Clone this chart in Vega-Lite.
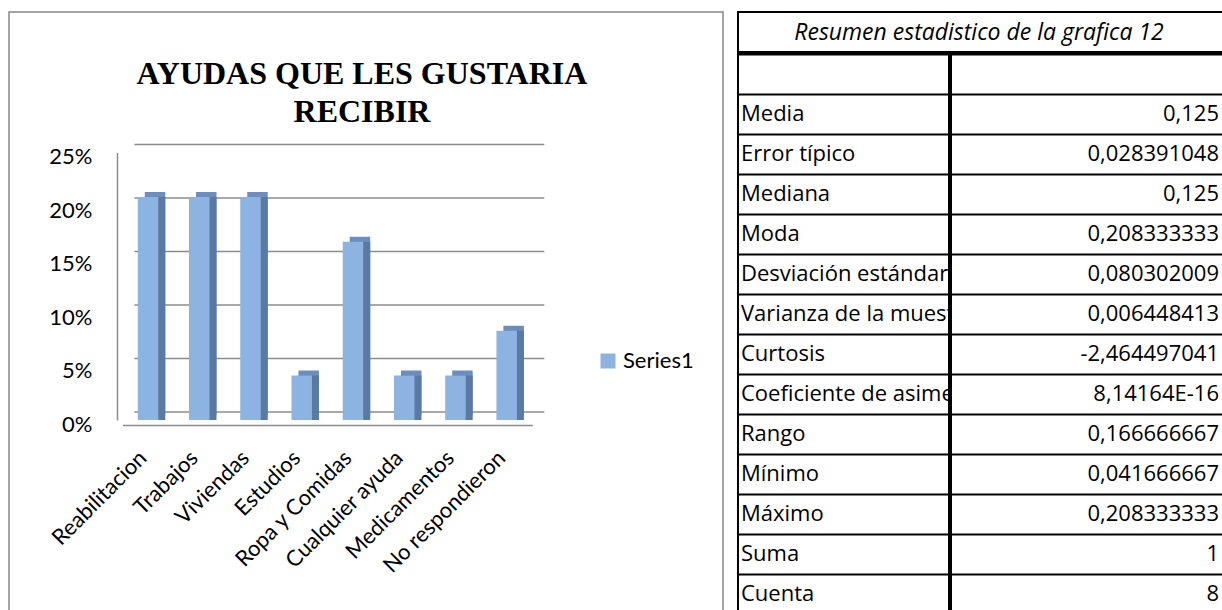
{
  "$schema": "https://vega.github.io/schema/vega-lite/v6.json",
  "background": "white",
  "padding": {"left": 8, "top": 11, "right": 0, "bottom": 0},
  "spacing": 13,
  "config": {"font": "Lato", "text": {"color": "black"}},
  "datasets": {
    "ayudas": [
      {"ayuda": "Reabilitacion", "pct": 0.208333333, "serie": "Series1"},
      {"ayuda": "Trabajos", "pct": 0.208333333, "serie": "Series1"},
      {"ayuda": "Viviendas", "pct": 0.208333333, "serie": "Series1"},
      {"ayuda": "Estudios", "pct": 0.041666667, "serie": "Series1"},
      {"ayuda": "Ropa y Comidas", "pct": 0.166666667, "serie": "Series1"},
      {"ayuda": "Cualquier ayuda", "pct": 0.041666667, "serie": "Series1"},
      {"ayuda": "Medicamentos", "pct": 0.041666667, "serie": "Series1"},
      {"ayuda": "No respondieron", "pct": 0.083333333, "serie": "Series1"}
    ],
    "grid": [{"v": 0}, {"v": 0.05}, {"v": 0.1}, {"v": 0.15}, {"v": 0.2}, {"v": 0.25}],
    "stats": [
      {"id": "r00", "stat": "", "valor": ""},
      {"id": "r01", "stat": "Media", "valor": "0,125"},
      {"id": "r02", "stat": "Error típico", "valor": "0,028391048"},
      {"id": "r03", "stat": "Mediana", "valor": "0,125"},
      {"id": "r04", "stat": "Moda", "valor": "0,208333333"},
      {"id": "r05", "stat": "Desviación estándar", "valor": "0,080302009"},
      {"id": "r06", "stat": "Varianza de la muestra", "valor": "0,006448413"},
      {"id": "r07", "stat": "Curtosis", "valor": "-2,464497041"},
      {"id": "r08", "stat": "Coeficiente de asimetría", "valor": "8,14164E-16"},
      {"id": "r09", "stat": "Rango", "valor": "0,166666667"},
      {"id": "r10", "stat": "Mínimo", "valor": "0,041666667"},
      {"id": "r11", "stat": "Máximo", "valor": "0,208333333"},
      {"id": "r12", "stat": "Suma", "valor": "1"},
      {"id": "r13", "stat": "Cuenta", "valor": "8"}
    ]
  },
  "hconcat": [
    {
      "width": 714,
      "height": 610,
      "view": {"stroke": "#868686", "strokeWidth": 1.5},
      "title": {
        "text": ["AYUDAS QUE LES GUSTARIA", "RECIBIR"],
        "font": "Liberation Serif",
        "fontSize": 32,
        "fontWeight": "bold",
        "color": "black",
        "lineHeight": 38,
        "anchor": "middle",
        "offset": -117,
        "dx": -4
      },
      "data": {"name": "ayudas"},
      "layer": [
        {
          "data": {"name": "grid"},
          "mark": {"type": "rule", "color": "#8c8c8c", "strokeWidth": 1.5, "xOffset": 12, "x2Offset": 12, "yOffset": -8},
          "encoding": {
            "y": {"field": "v", "type": "quantitative"},
            "x": {"datum": "Reabilitacion", "type": "nominal", "bandPosition": 0},
            "x2": {"datum": "No respondieron", "bandPosition": 1}
          }
        },
        {
          "mark": {"type": "bar", "color": "#6d8ebd", "width": {"band": 0.4}, "xOffset": 7, "yOffset": -5},
          "encoding": {
            "x": {"field": "ayuda", "type": "nominal"},
            "y": {"field": "pct", "type": "quantitative"}
          }
        },
        {
          "mark": {"type": "bar", "color": "#5b7aa3", "width": {"band": 0.4}, "xOffset": 7},
          "encoding": {
            "x": {"field": "ayuda", "type": "nominal"},
            "y": {"field": "pct", "type": "quantitative"}
          }
        },
        {
          "mark": {"type": "bar", "width": {"band": 0.4}},
          "encoding": {
            "x": {
              "field": "ayuda",
              "type": "nominal",
              "scale": {
                "domain": ["Reabilitacion", "Trabajos", "Viviendas", "Estudios", "Ropa y Comidas", "Cualquier ayuda", "Medicamentos", "No respondieron"],
                "range": [113.4, 523.3],
                "paddingInner": 0,
                "paddingOuter": 0
              },
              "axis": {
                "orient": "bottom",
                "offset": -197,
                "title": null,
                "labelAngle": -45,
                "labelAlign": "right",
                "labelBaseline": "middle",
                "labelPadding": 29,
                "labelOffset": -5,
                "labelOverlap": false,
                "labelBound": false,
                "labelFontSize": 22,
                "labelColor": "black",
                "ticks": false,
                "domainColor": "#8c8c8c",
                "domainWidth": 1.5
              }
            },
            "y": {
              "field": "pct",
              "type": "quantitative",
              "scale": {"domain": [0, 0.25], "range": [408, 140.5], "nice": false},
              "axis": {
                "orient": "left",
                "offset": -108,
                "title": null,
                "values": [0, 0.05, 0.1, 0.15, 0.2, 0.25],
                "format": ".0%",
                "grid": false,
                "ticks": false,
                "labelPadding": 25,
                "labelOffset": 4,
                "labelFontSize": 22,
                "labelColor": "black",
                "labelOverlap": false,
                "domainColor": "#8c8c8c",
                "domainWidth": 1.5
              }
            },
            "color": {
              "field": "serie",
              "type": "nominal",
              "scale": {"range": ["#8db3e2"]},
              "legend": {
                "orient": "none",
                "legendX": 588,
                "legendY": 338,
                "title": null,
                "symbolType": "square",
                "symbolSize": 225,
                "symbolStrokeWidth": 0,
                "symbolOpacity": 1,
                "labelFontSize": 22,
                "labelColor": "black",
                "padding": 0
              }
            }
          }
        }
      ]
    },
    {
      "spacing": 0,
      "vconcat": [
        {
          "width": 486,
          "height": 40,
          "view": {"stroke": "black", "strokeWidth": 2},
          "data": {"values": [{"t": "Resumen estadistico de la grafica 12"}]},
          "mark": {"type": "text", "fontStyle": "italic", "fontSize": 23, "font": "Open Sans", "dx": -2, "dy": 1, "color": "black"},
          "encoding": {"text": {"field": "t", "type": "nominal"}}
        },
        {
          "spacing": 0,
          "hconcat": [
            {
              "width": 211,
              "height": 560,
              "view": {"stroke": "black", "strokeWidth": 2},
              "data": {"name": "stats"},
              "mark": {"type": "text", "align": "left", "dx": 3, "fontSize": 22, "font": "Open Sans", "clip": true, "color": "black"},
              "encoding": {
                "y": {
                  "field": "id",
                  "type": "nominal",
                  "sort": null,
                  "scale": {"type": "band", "paddingInner": 0, "paddingOuter": 0},
                  "axis": {"title": null, "labels": false, "ticks": false, "domain": false, "grid": true, "tickBand": "extent", "gridColor": "black", "gridWidth": 2, "gridOpacity": 1}
                },
                "x": {"datum": "c", "type": "nominal", "bandPosition": 0, "axis": null, "scale": {"type": "band", "paddingInner": 0, "paddingOuter": 0}},
                "text": {"field": "stat", "type": "nominal"}
              }
            },
            {
              "width": 275,
              "height": 560,
              "view": {"stroke": "black", "strokeWidth": 2},
              "data": {"name": "stats"},
              "mark": {"type": "text", "align": "right", "dx": -7, "fontSize": 22, "font": "Open Sans", "clip": true, "color": "black"},
              "encoding": {
                "y": {
                  "field": "id",
                  "type": "nominal",
                  "sort": null,
                  "scale": {"type": "band", "paddingInner": 0, "paddingOuter": 0},
                  "axis": {"title": null, "labels": false, "ticks": false, "domain": false, "grid": true, "tickBand": "extent", "gridColor": "black", "gridWidth": 2, "gridOpacity": 1}
                },
                "x": {"datum": "c", "type": "nominal", "bandPosition": 1, "axis": null, "scale": {"type": "band", "paddingInner": 0, "paddingOuter": 0}},
                "text": {"field": "valor", "type": "nominal"}
              }
            }
          ]
        }
      ]
    }
  ]
}
